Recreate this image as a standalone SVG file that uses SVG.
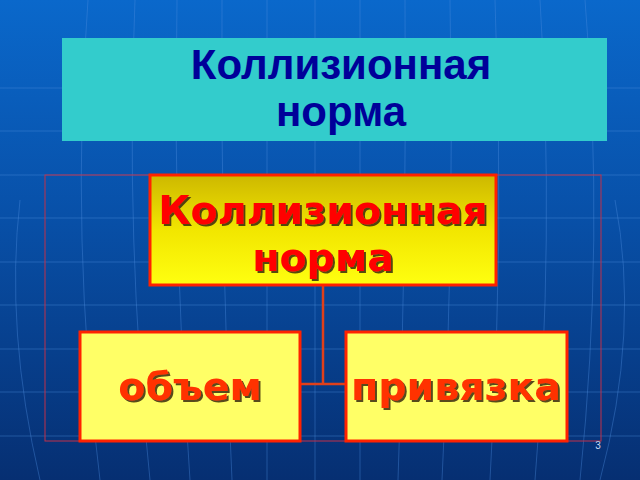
<svg xmlns="http://www.w3.org/2000/svg" width="640" height="480" viewBox="0 0 640 480">
<defs>
<linearGradient id="bg" x1="0" y1="0" x2="0" y2="1">
<stop offset="0" stop-color="#0A68CB"/>
<stop offset="0.45" stop-color="#0850A8"/>
<stop offset="1" stop-color="#062F72"/>
</linearGradient>
<linearGradient id="topfill" x1="0" y1="0" x2="0" y2="1">
<stop offset="0" stop-color="#CDB800"/>
<stop offset="0.5" stop-color="#F2E600"/>
<stop offset="1" stop-color="#FFFF10"/>
</linearGradient>
<filter id="sh" x="-10%" y="-10%" width="120%" height="130%">
<feDropShadow dx="2" dy="2" stdDeviation="0.6" flood-color="#3a2a08" flood-opacity="0.85"/>
</filter>
<style>
.grid{fill:none;stroke:#4E8FE0;stroke-width:1;opacity:0.38}
.title{font-family:"Liberation Sans",Arial,sans-serif;font-weight:bold;font-size:42px;fill:#000099;text-anchor:middle}
.lbl{font-family:"DejaVu Sans",Verdana,sans-serif;font-weight:bold;font-size:39.5px;text-anchor:middle;filter:url(#sh)}
.node{stroke:#FF2200;stroke-width:3}
.conn{fill:none;stroke:#E0401A;stroke-width:2.5}
</style>
</defs>
<rect width="640" height="480" fill="url(#bg)"/>
<g id="grid">
<path class="grid" d="M0 88H640M0 131H640M0 175H640M0 218H640M0 262H640M0 305H640M0 349H640M0 392H640M0 436H640"/>
<path class="grid" d="M88 0Q70 240 100 480M135 0Q125 240 150 480M177 0Q172 240 190 480M222 0Q220 240 232 480M267 0V480M315 0V480M360 0V480M405 0Q407 240 398 480M450 0Q455 240 442 480M495 0Q505 240 490 480M540 0Q555 240 535 480M585 0Q605 240 580 480"/>
<path class="grid" d="M20 200Q5 330 40 480M615 200Q640 330 600 480"/>
</g>
<rect x="45" y="175" width="556" height="266" fill="none" stroke="#C0304A" stroke-width="1"/>
<g id="title">
<rect x="62" y="38" width="545" height="103" fill="#33CCCC"/>
<text class="title" x="341" y="79">Коллизионная</text>
<text class="title" x="341" y="126">норма</text>
</g>
<g id="connectors">
<path class="conn" d="M323 285V384M300 384H345"/>
</g>
<g id="node-root">
<rect class="node" x="150" y="175" width="346" height="110" fill="url(#topfill)"/>
<text class="lbl" x="323" y="224" fill="#FF0000">Коллизионная</text>
<text class="lbl" x="323" y="271" fill="#FF0000">норма</text>
</g>
<g id="node-volume">
<rect class="node" x="80" y="332" width="220" height="109" fill="#FFFF66"/>
<text class="lbl" x="190" y="400" fill="#FF3300">объем</text>
</g>
<g id="node-binding">
<rect class="node" x="346" y="332" width="221" height="109" fill="#FFFF66"/>
<text class="lbl" x="456" y="400" fill="#FF3300">привязка</text>
</g>
<text x="598" y="449" font-family="Liberation Sans,Arial,sans-serif" font-size="10" fill="#C8D8F0" text-anchor="middle">3</text>
</svg>
